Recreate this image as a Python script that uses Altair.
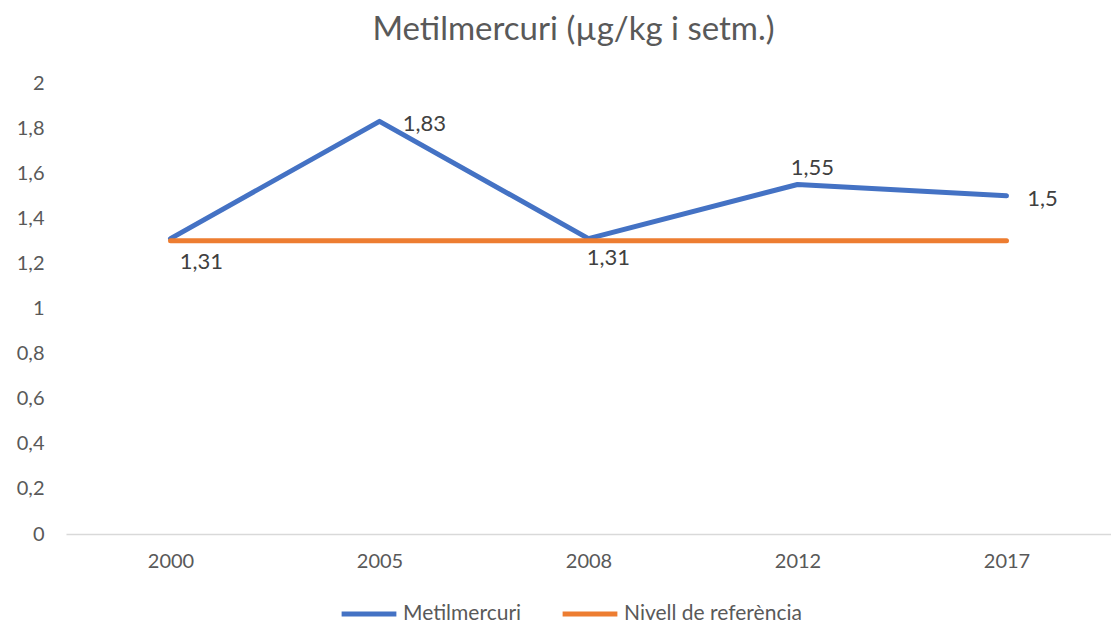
import altair as alt
import pandas as pd

years = ["2000", "2005", "2008", "2012", "2017"]
metil = [1.31, 1.83, 1.31, 1.55, 1.50]
referencia = [1.3, 1.3, 1.3, 1.3, 1.3]
series = ["Metilmercuri", "Nivell de referència"]
colors = ["#4472C4", "#ED7D31"]
y_ticks = [0, 0.2, 0.4, 0.6, 0.8, 1.0, 1.2, 1.4, 1.6, 1.8, 2.0]

rows = []
for yr, m, r in zip(years, metil, referencia):
    rows.append({"year": yr, "serie": series[0], "value": m})
    rows.append({"year": yr, "serie": series[1], "value": r})
df = pd.DataFrame(rows)

FONT = "Lato"
GREY = "#595959"

x_enc = alt.X(
    "year:N", sort=years, title=None,
    scale=alt.Scale(type="point", padding=0.5),
    axis=alt.Axis(labelAngle=0, ticks=False, domainColor="#d9d9d9", domainWidth=1.5,
                  labelFontSize=20, labelColor=GREY, labelFont=FONT, labelPadding=17),
)
y_enc = alt.Y(
    "value:Q", title=None,
    scale=alt.Scale(domain=[0, 2], nice=False),
    axis=alt.Axis(values=y_ticks, format="~g", labelExpr="replace(datum.label, '.', ',')",
                  domain=False, ticks=False, grid=False, labelFontSize=20, labelColor=GREY,
                  labelFont=FONT, labelPadding=22),
)

base = alt.Chart(df)

lines = base.mark_line(strokeWidth=5, strokeCap="round", strokeJoin="round").encode(
    x=x_enc, y=y_enc,
    color=alt.Color("serie:N", sort=series,
                    scale=alt.Scale(domain=series, range=colors),
                    legend=alt.Legend(title=None, orient="none", direction="horizontal",
                                      legendX=273, legendY=501, symbolType="stroke",
                                      symbolSize=3000, symbolStrokeWidth=5,
                                      labelFontSize=21, labelColor=GREY, labelFont=FONT,
                                      labelLimit=400, columnPadding=30, labelOffset=4)),
    order=alt.Order("year:N"),
)

offsets = {"2000": (31, 23), "2005": (45, 3), "2008": (20, 19), "2012": (15, -16), "2017": (36, 3)}

label_layers = []
for yr, (dx, dy) in offsets.items():
    label_layers.append(
        base.transform_filter(
            (alt.datum.serie == series[0]) & (alt.datum.year == yr)
        ).transform_calculate(
            lab="replace(format(datum.value, '~g'), '.', ',')"
        ).mark_text(dx=dx, dy=dy, fontSize=22, font=FONT, color="#404040",
                    align="center", baseline="middle").encode(
            x=alt.X("year:N", sort=years, scale=alt.Scale(type="point", padding=0.5)),
            y=alt.Y("value:Q"),
            text="lab:N",
        )
    )

chart = alt.layer(lines, *label_layers).properties(
    width=1045, height=451,
    title=alt.TitleParams("Metilmercuri (µg/kg i setm.)", fontSize=33, font=FONT,
                          color=GREY, fontWeight="normal", anchor="middle",
                          offset=26, dx=-15),
    autosize=alt.AutoSizeParams(type="none"),
    padding={"left": 58, "top": 75, "right": 0, "bottom": 92},
).configure_view(stroke=None)

chart.save("out.html", embed_options={"renderer": "svg", "actions": False})
